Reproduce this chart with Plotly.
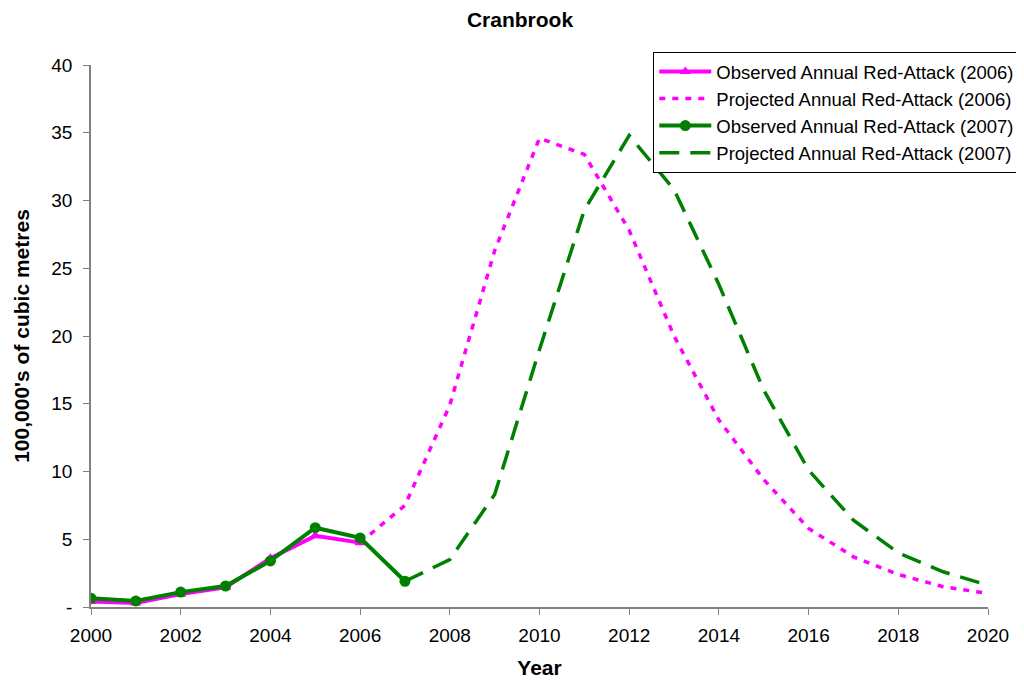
import plotly.graph_objects as go

years_obs06 = [2000, 2001, 2002, 2003, 2004, 2005, 2006]
obs06 = [0.4, 0.3, 0.95, 1.45, 3.6, 5.25, 4.75]

years_proj06 = list(range(2006, 2021))
proj06 = [4.75, 7.5, 14.9, 26.3, 34.6, 33.4, 27.8, 20.0, 13.8, 9.4, 5.8, 3.7, 2.4, 1.5, 1.0]

years_obs07 = [2000, 2001, 2002, 2003, 2004, 2005, 2006, 2007]
obs07 = [0.65, 0.45, 1.1, 1.55, 3.4, 5.85, 5.1, 1.9]

years_proj07 = list(range(2007, 2021))
proj07 = [1.9, 3.5, 8.3, 19.0, 29.3, 34.8, 30.8, 23.8, 16.0, 10.1, 6.4, 4.0, 2.6, 1.6]

x_ticks = list(range(2000, 2021, 2))
y_ticks = [0, 5, 10, 15, 20, 25, 30, 35, 40]
y_ticklabels = ["-", "5", "10", "15", "20", "25", "30", "35", "40"]

MAG = "#FF00FF"
GRN = "#008000"
FONT = "Liberation Sans, Arial, sans-serif"

fig = go.Figure()
fig.add_trace(go.Scatter(x=years_obs06, y=obs06, mode="lines+markers",
                         name="Observed Annual Red-Attack (2006)",
                         line=dict(color=MAG, width=4),
                         marker=dict(symbol="triangle-up", size=10, color=MAG)))
fig.add_trace(go.Scatter(x=years_proj06, y=proj06, mode="lines",
                         name="Projected Annual Red-Attack (2006)",
                         line=dict(color=MAG, width=3.5, dash="6px,7px")))
fig.add_trace(go.Scatter(x=years_obs07, y=obs07, mode="lines+markers",
                         name="Observed Annual Red-Attack (2007)",
                         line=dict(color=GRN, width=4),
                         marker=dict(symbol="circle", size=11, color=GRN)))
fig.add_trace(go.Scatter(x=years_proj07, y=proj07, mode="lines",
                         name="Projected Annual Red-Attack (2007)",
                         line=dict(color=GRN, width=3.5, dash="20px,11px")))

fig.update_layout(
    width=1024, height=681,
    paper_bgcolor="white", plot_bgcolor="white",
    margin=dict(l=83, r=44, t=57, b=82),
    font=dict(family=FONT, size=19, color="black"),
    title=dict(text="<b>Cranbrook</b>", x=0.5, xanchor="center", y=0.983, yanchor="middle",
               font=dict(size=21, family=FONT)),
    showlegend=True,
    legend=dict(x=1.036, xanchor="right", y=1.024, yanchor="top",
                bgcolor="white", bordercolor="black", borderwidth=1,
                font=dict(size=18.5, family=FONT), tracegroupgap=0,
                itemwidth=52),
    xaxis=dict(range=[2000, 2020], tickvals=x_ticks, showgrid=False, zeroline=False,
               showline=True, linecolor="#808080", linewidth=1.5,
               ticks="outside", ticklen=6, tickcolor="#808080", ticklabelstandoff=4,
               title=dict(text="<b>Year</b>", font=dict(size=21), standoff=16)),
    yaxis=dict(range=[0, 40], tickvals=y_ticks, ticktext=y_ticklabels, showgrid=False, zeroline=False,
               showline=True, linecolor="#808080", linewidth=1.5,
               ticks="outside", ticklen=6, tickcolor="#808080", ticklabelstandoff=7,
               title=dict(text="<b>100,000's of cubic metres</b>", font=dict(size=21), standoff=16)),
)

fig.write_html("out.html")
